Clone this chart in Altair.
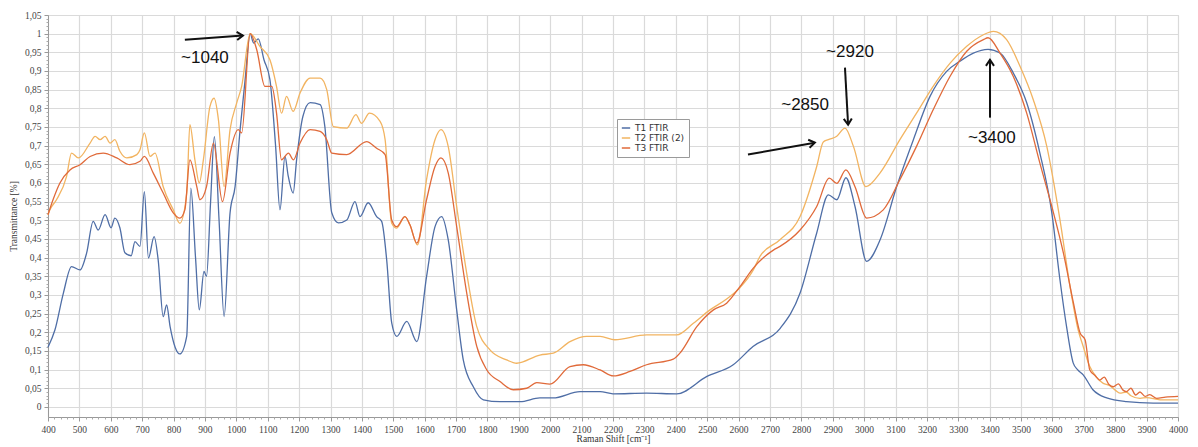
import altair as alt
import pandas as pd

# ---------------- data ----------------
T1_X = [400, 422, 449, 475, 502, 523, 544, 560, 582, 601, 613, 629, 645, 665, 677, 693, 707, 720, 738, 751,
        767, 778, 789, 805, 820, 842, 855, 870, 882, 897, 905, 918, 930, 945, 961, 980, 996, 1012, 1028, 1044,
        1055, 1070, 1088, 1107, 1125, 1139, 1155, 1165, 1181, 1192, 1212, 1235, 1267, 1282, 1304, 1325, 1352,
        1378, 1394, 1420, 1447, 1463, 1479, 1495, 1511, 1543, 1575, 1606, 1633, 1654, 1675, 1702, 1723, 1755,
        1787, 1840, 1904, 1967, 2009, 2095, 2159, 2200, 2307, 2403, 2498, 2583, 2646, 2732, 2796, 2849, 2886,
        2913, 2942, 2971, 3008, 3051, 3104, 3157, 3210, 3263, 3305, 3348, 3395, 3433, 3475, 3518, 3560, 3598,
        3624, 3645, 3666, 3680, 3698, 3729, 3773, 3836, 3921, 4000]
T1_Y = [0.16, 0.206, 0.305, 0.376, 0.367, 0.412, 0.497, 0.474, 0.515, 0.48, 0.506, 0.48, 0.413, 0.405, 0.443,
        0.43, 0.577, 0.399, 0.456, 0.394, 0.242, 0.273, 0.215, 0.16, 0.142, 0.19, 0.586, 0.4, 0.26, 0.363, 0.35,
        0.55, 0.724, 0.5, 0.242, 0.52, 0.59, 0.743, 0.877, 1.0, 0.975, 0.986, 0.93, 0.877, 0.7, 0.528, 0.671,
        0.62, 0.573, 0.662, 0.778, 0.815, 0.81, 0.751, 0.52, 0.493, 0.501, 0.55, 0.51, 0.547, 0.51, 0.497,
        0.394, 0.225, 0.189, 0.229, 0.175, 0.349, 0.483, 0.51, 0.448, 0.26, 0.126, 0.054, 0.019, 0.014, 0.014,
        0.024, 0.024, 0.041, 0.041, 0.035, 0.037, 0.035, 0.081, 0.113, 0.162, 0.21, 0.305, 0.466, 0.568, 0.555,
        0.614, 0.537, 0.39, 0.448, 0.591, 0.716, 0.832, 0.899, 0.926, 0.948, 0.958, 0.948, 0.895, 0.815, 0.68,
        0.52, 0.34, 0.215, 0.118, 0.1, 0.086, 0.046, 0.024, 0.014, 0.01, 0.01]

T2_X = [400, 406, 427, 459, 475, 497, 534, 550, 566, 582, 598, 613, 629, 651, 683, 693, 707, 725, 741, 767,
        799, 820, 842, 852, 868, 882, 895, 916, 929, 943, 961, 980, 1001, 1017, 1044, 1075, 1107, 1128, 1144,
        1160, 1181, 1203, 1235, 1267, 1288, 1309, 1352, 1381, 1399, 1424, 1458, 1474, 1495, 1511, 1537, 1553,
        1577, 1606, 1633, 1652, 1675, 1702, 1734, 1766, 1808, 1861, 1893, 1967, 2010, 2063, 2116, 2159, 2206,
        2307, 2403, 2456, 2509, 2562, 2605, 2647, 2668, 2732, 2796, 2849, 2870, 2886, 2913, 2939, 2966, 3006,
        3051, 3114, 3167, 3220, 3274, 3327, 3380, 3412, 3454, 3497, 3539, 3582, 3624, 3656, 3682, 3698, 3719,
        3740, 3762, 3780, 3800, 3815, 3835, 3850, 3879, 3900, 3943, 4000]
T2_Y = [0.515, 0.528, 0.555, 0.617, 0.68, 0.667, 0.707, 0.725, 0.716, 0.725, 0.707, 0.716, 0.685, 0.667, 0.676,
        0.689, 0.734, 0.671, 0.68, 0.59, 0.528, 0.492, 0.573, 0.756, 0.662, 0.6, 0.662, 0.805, 0.827, 0.769,
        0.59, 0.743, 0.814, 0.859, 1.0, 0.966, 0.93, 0.859, 0.787, 0.832, 0.792, 0.841, 0.881, 0.881, 0.85,
        0.751, 0.747, 0.783, 0.76, 0.787, 0.765, 0.716, 0.492, 0.479, 0.51, 0.488, 0.434, 0.609, 0.716, 0.743,
        0.698, 0.537, 0.358, 0.215, 0.153, 0.126, 0.117, 0.139, 0.144, 0.175, 0.189, 0.189, 0.18, 0.193, 0.193,
        0.224, 0.26, 0.289, 0.32, 0.367, 0.403, 0.448, 0.51, 0.644, 0.71, 0.716, 0.725, 0.747, 0.698, 0.59,
        0.627, 0.716, 0.787, 0.859, 0.921, 0.966, 0.997, 1.006, 0.984, 0.912, 0.823, 0.698, 0.501, 0.323,
        0.206, 0.162, 0.108, 0.08, 0.063, 0.058, 0.045, 0.037, 0.04, 0.03, 0.023, 0.025, 0.019, 0.019]

T3_X = [400, 416, 438, 470, 502, 534, 576, 619, 661, 693, 707, 735, 767, 799, 820, 836, 852, 874, 884, 905,
        927, 956, 980, 1006, 1017, 1044, 1065, 1091, 1113, 1128, 1144, 1166, 1182, 1203, 1235, 1267, 1288,
        1304, 1352, 1415, 1447, 1474, 1495, 1511, 1537, 1553, 1575, 1606, 1633, 1652, 1675, 1702, 1734, 1766,
        1798, 1840, 1882, 1925, 1957, 1999, 2063, 2105, 2159, 2201, 2254, 2307, 2392, 2413, 2467, 2520, 2562,
        2605, 2647, 2711, 2732, 2796, 2849, 2889, 2913, 2942, 2971, 3008, 3061, 3114, 3167, 3220, 3274, 3327,
        3380, 3395, 3433, 3475, 3518, 3560, 3598, 3635, 3667, 3688, 3704, 3719, 3735, 3751, 3765, 3780, 3794,
        3810, 3825, 3836, 3850, 3865, 3879, 3895, 3910, 3932, 3960, 4000]
T3_Y = [0.515, 0.555, 0.6, 0.635, 0.649, 0.671, 0.68, 0.667, 0.649, 0.658, 0.671, 0.627, 0.573, 0.52, 0.506,
        0.528, 0.662, 0.59, 0.555, 0.59, 0.707, 0.55, 0.68, 0.743, 0.734, 1.0, 0.957, 0.859, 0.859, 0.788,
        0.662, 0.68, 0.662, 0.707, 0.743, 0.738, 0.716, 0.68, 0.676, 0.711, 0.693, 0.676, 0.501, 0.483, 0.51,
        0.488, 0.439, 0.555, 0.644, 0.667, 0.627, 0.483, 0.305, 0.162, 0.099, 0.068, 0.046, 0.05, 0.065, 0.061,
        0.108, 0.113, 0.099, 0.083, 0.095, 0.113, 0.128, 0.144, 0.215, 0.26, 0.278, 0.323, 0.372, 0.42, 0.43,
        0.474, 0.537, 0.613, 0.599, 0.635, 0.59, 0.506, 0.528, 0.609, 0.698, 0.796, 0.886, 0.953, 0.984, 0.989,
        0.948, 0.886, 0.787, 0.653, 0.537, 0.412, 0.278, 0.198, 0.18, 0.099, 0.085, 0.072, 0.08, 0.06, 0.054,
        0.062, 0.045, 0.041, 0.05, 0.032, 0.04, 0.028, 0.033, 0.023, 0.026, 0.028]

SERIES = ["T1 FTIR", "T2 FTIR (2)", "T3 FTIR"]
COLORS = ["#4f6ea6", "#f2b461", "#e06a3a"]

X_TICKS = list(range(400, 4001, 100))
X_MINOR = [v for v in range(400, 4001, 20) if v % 100 != 0]
Y_TICKS = [round(i * 0.05, 2) for i in range(22)]
Y_MINOR = [round(i * 0.01, 2) for i in range(106) if i % 5 != 0]

ANN_TEXT = ["~1040", "~2850", "~2920", "~3400"]
ANN_X = [900, 2812, 2955, 3407]
ANN_Y = [0.936, 0.81, 0.952, 0.721]

ARR_X1 = [836, 2630, 2939, 3401]
ARR_Y1 = [0.984, 0.676, 0.909, 0.775]
ARR_X2 = [1021, 2843, 2949, 3401]
ARR_Y2 = [0.995, 0.708, 0.756, 0.930]
ARR_ANGLE = [86, 80, 177, 0]

# ---------------- tables ----------------
rows = []
for name, xs, ys in zip(SERIES, [T1_X, T2_X, T3_X], [T1_Y, T2_Y, T3_Y]):
    for x, y in zip(xs, ys):
        rows.append({"series": name, "wn": x, "t": y})
df = pd.DataFrame(rows)

ann = pd.DataFrame({"label": ANN_TEXT, "x": ANN_X, "y": ANN_Y})
arr = pd.DataFrame({"x1": ARR_X1, "y1": ARR_Y1, "x2": ARR_X2, "y2": ARR_Y2, "angle": ARR_ANGLE})
minor = pd.DataFrame({"wn": [400], "t": [0.0]})

xscale = alt.Scale(domain=[400, 4000], nice=False, zero=False)
yscale = alt.Scale(domain=[-0.027, 1.05], nice=False, zero=False)

SERIF = "Liberation Serif"

lines = alt.Chart(df).mark_line(strokeWidth=1.3, interpolate="monotone").encode(
    x=alt.X("wn:Q", scale=xscale,
            axis=alt.Axis(values=X_TICKS, title="Raman Shift [cm⁻¹]", format="d",
                          labelFont=SERIF, labelFontSize=9.5, labelColor="#444", labelFlush=False,
                          titleFont=SERIF, titleFontSize=9.5, titleFontWeight="normal", titleColor="#333",
                          titlePadding=0, tickSize=4, tickColor="#999", domainColor="#999",
                          gridColor="#dadada", gridWidth=1.2, labelPadding=3)),
    y=alt.Y("t:Q", scale=yscale,
            axis=alt.Axis(values=Y_TICKS, title="Transmittance [%]",
                          labelExpr="replace(format(datum.value, '.2~f'), '.', ',')",
                          labelFont=SERIF, labelFontSize=9.5, labelColor="#444", labelFlush=False,
                          titleFont=SERIF, titleFontSize=9.5, titleFontWeight="normal", titleColor="#333",
                          titlePadding=6, tickSize=4, tickColor="#999", domainColor="#999",
                          gridColor="#dadada", gridWidth=1.2, labelPadding=3)),
    color=alt.Color("series:N",
                    scale=alt.Scale(domain=SERIES, range=COLORS),
                    legend=alt.Legend(title=None, orient="none", legendX=569, legendY=104,
                                      symbolType="stroke", symbolStrokeWidth=1.5, symbolSize=70,
                                      labelFont="DejaVu Sans", labelFontSize=9, labelColor="#333",
                                      fillColor="white", strokeColor="#9a9a9a", padding=4,
                                      rowPadding=0, labelOffset=4)),
)

minor_axes = alt.Chart(minor).mark_point(opacity=0).encode(
    x=alt.X("wn:Q", scale=xscale,
            axis=alt.Axis(values=X_MINOR, labels=False, grid=False, domain=False, title=None,
                          tickSize=2, tickColor="#aaa", orient="bottom")),
    y=alt.Y("t:Q", scale=yscale,
            axis=alt.Axis(values=Y_MINOR, labels=False, grid=False, domain=False, title=None,
                          tickSize=2, tickColor="#aaa", orient="left")),
)

texts = alt.Chart(ann).mark_text(font="Liberation Sans", fontSize=17, color="#111").encode(
    x=alt.X("x:Q", scale=xscale, axis=None), y=alt.Y("y:Q", scale=yscale, axis=None), text="label:N")

shafts = alt.Chart(arr).mark_rule(color="#111", strokeWidth=2).encode(
    x=alt.X("x1:Q", scale=xscale, axis=None), y=alt.Y("y1:Q", scale=yscale, axis=None),
    x2="x2:Q", y2="y2:Q")

heads = alt.Chart(arr).mark_point(
    shape="M -0.6 0.9 L 0 0 L 0.6 0.9", filled=False, color="#111", strokeWidth=2, size=180, opacity=1
).encode(
    x=alt.X("x2:Q", scale=xscale, axis=None), y=alt.Y("y2:Q", scale=yscale, axis=None),
    angle=alt.Angle("angle:Q", scale=None))

chart = alt.layer(lines, minor_axes, texts, shafts, heads).resolve_axis(
    x="independent", y="independent"
).properties(
    width=1130, height=402,
    autosize=alt.AutoSizeParams(type="none"),
    padding={"left": 40, "top": 7, "right": 12, "bottom": 30},
).configure_view(stroke=None).configure(background="white")

chart.save("out.html", embed_options={"renderer": "svg", "actions": False})
